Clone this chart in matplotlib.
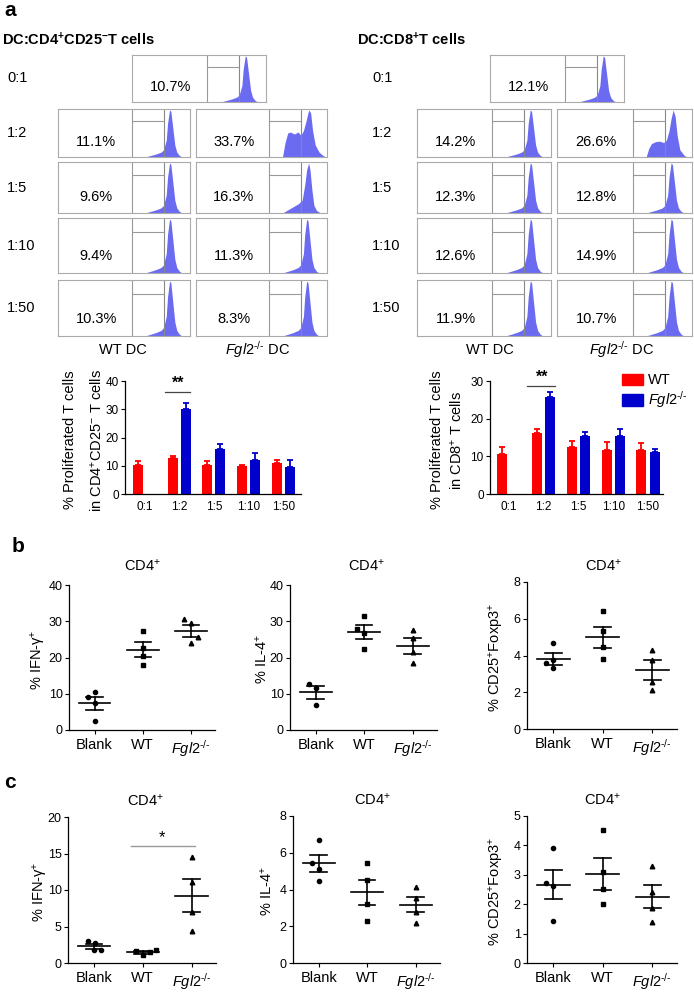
import numpy as np
import matplotlib
matplotlib.use("Agg")
import matplotlib.pyplot as plt
from matplotlib.patches import Patch

plt.rcParams['font.family'] = ['Liberation Sans', 'DejaVu Sans']
plt.rcParams['mathtext.fontset'] = 'custom'
plt.rcParams['mathtext.rm'] = 'Liberation Sans'
plt.rcParams['mathtext.it'] = 'Liberation Sans:italic'
plt.rcParams['mathtext.bf'] = 'Liberation Sans:bold'
plt.rcParams['axes.linewidth'] = 0.9

# ---------------- data ----------------
ratios = ['0:1', '1:2', '1:5', '1:10', '1:50']

# flow histogram percentages (panel a)
cd4_wt_pct = ['10.7%', '11.1%', '9.6%', '9.4%', '10.3%']
cd4_ko_pct = [None, '33.7%', '16.3%', '11.3%', '8.3%']
cd8_wt_pct = ['12.1%', '14.2%', '12.3%', '12.6%', '11.9%']
cd8_ko_pct = [None, '26.6%', '12.8%', '14.9%', '10.7%']

# histogram outlines (fraction of box width / height)
peak_x = [0.66, 0.70, 0.74, 0.78, 0.80, 0.82, 0.83, 0.845, 0.855, 0.87, 0.885, 0.90, 0.92, 0.94]
peak_y = [0, 0.03, 0.06, 0.10, 0.15, 0.35, 0.70, 0.98, 0.95, 0.60, 0.25, 0.10, 0.03, 0]
small_x = [0.66, 0.70, 0.74, 0.78, 0.81, 0.83, 0.845, 0.86, 0.87, 0.885, 0.90, 0.92, 0.95]
small_y = [0, 0.06, 0.12, 0.18, 0.25, 0.55, 0.85, 0.98, 0.85, 0.45, 0.15, 0.05, 0]
broad4_x = [0.66, 0.68, 0.70, 0.72, 0.75, 0.78, 0.80, 0.82, 0.84, 0.86, 0.875, 0.89, 0.91, 0.94, 0.97, 0.99]
broad4_y = [0, 0.30, 0.50, 0.52, 0.48, 0.52, 0.45, 0.55, 0.75, 0.98, 0.92, 0.55, 0.25, 0.10, 0.03, 0]
broad8_x = [0.66, 0.68, 0.70, 0.73, 0.76, 0.79, 0.81, 0.83, 0.845, 0.86, 0.875, 0.89, 0.91, 0.94, 0.96]
broad8_y = [0, 0.18, 0.28, 0.32, 0.33, 0.30, 0.35, 0.55, 0.80, 0.98, 0.85, 0.45, 0.15, 0.04, 0]
profiles = {'peak': (peak_x, peak_y), 'small': (small_x, small_y),
            'broad4': (broad4_x, broad4_y), 'broad8': (broad8_x, broad8_y)}
cd4_ko_shape = [None, 'broad4', 'small', 'peak', 'peak']
cd8_ko_shape = [None, 'broad8', 'peak', 'peak', 'peak']

# bar charts (panel a): mean and top of error bar
cd4_wt_mean = [10.1, 12.7, 10.4, 10.0, 10.8]
cd4_wt_top = [11.6, 13.4, 11.7, 10.3, 11.9]
cd4_ko_mean = [30.2, 15.8, 12.2, 9.4]
cd4_ko_top = [32.3, 17.8, 14.5, 11.9]
cd8_wt_mean = [10.7, 16.3, 12.5, 11.6, 11.8]
cd8_wt_top = [12.6, 17.3, 14.1, 13.8, 13.5]
cd8_ko_mean = [25.7, 15.4, 15.3, 11.1]
cd8_ko_top = [27.1, 16.4, 17.3, 12.0]

KO = r'$\mathit{Fgl2}^{\text{-/-}}$'
groups = ['Blank', 'WT', KO]

# panel b: dots, x-shift of dots, mean, SEM
b_ifn = [[10.6, 9.0, 7.4, 2.6], [27.3, 22.7, 20.5, 17.9], [30.5, 29.4, 25.7, 24.1]]
b_ifn_dx = [[0, -0.14, 0, 0], [0, 0, 0, 0], [-0.14, 0, 0.14, 0]]
b_ifn_mean = [7.4, 22.1, 27.4]
b_ifn_sem = [1.75, 2.05, 1.7]

b_il4 = [[12.6, 11.5, 6.9], [31.5, 27.9, 26.7, 22.3], [27.6, 25.3, 21.5, 18.6]]
b_il4_dx = [[-0.14, 0, 0], [0, -0.14, 0, 0], [0, 0, 0, 0]]
b_il4_mean = [10.4, 27.1, 23.2]
b_il4_sem = [1.8, 1.95, 2.1]

b_treg = [[4.68, 3.77, 3.59, 3.30], [6.42, 5.32, 4.46, 3.81], [4.32, 3.74, 2.54, 2.10]]
b_treg_dx = [[0, 0, -0.14, 0], [0, 0, 0, 0], [0, 0, 0, 0]]
b_treg_mean = [3.81, 4.99, 3.21]
b_treg_sem = [0.31, 0.56, 0.52]

# panel c
c_ifn = [[2.95, 2.73, 1.73, 1.73], [1.68, 1.09, 1.45, 1.82], [14.5, 11.1, 7.0, 4.4]]
c_ifn_dx = [[-0.12, 0.02, 0, 0.14], [-0.14, 0, 0.14, 0.27], [0, 0, 0, 0]]
c_ifn_mean = [2.27, 1.45, 9.2]
c_ifn_sem = [0.32, 0.16, 2.25]

c_il4 = [[6.71, 5.42, 5.09, 4.48], [5.42, 4.49, 3.19, 2.31], [4.12, 3.56, 2.80, 2.17]]
c_il4_dx = [[0, -0.14, 0, 0], [0, 0, 0, 0], [0, 0, 0, 0]]
c_il4_mean = [5.42, 3.84, 3.18]
c_il4_sem = [0.46, 0.68, 0.43]

c_treg = [[3.92, 2.73, 2.62, 1.43], [4.51, 3.10, 2.51, 2.02], [3.31, 2.40, 1.86, 1.39]]
c_treg_dx = [[0, -0.14, 0, 0], [0, 0, 0, 0], [0, 0, 0, 0]]
c_treg_mean = [2.67, 3.04, 2.26]
c_treg_sem = [0.50, 0.54, 0.40]

# ---------------- figure ----------------
W, H = 694, 992
fig = plt.figure(figsize=(W / 100, H / 100), dpi=100)


def px_axes(x0, y0, x1, y1):
    return fig.add_axes([x0 / W, 1 - y1 / H, (x1 - x0) / W, (y1 - y0) / H])


def px_text(x, y, s, **kw):
    kw.setdefault('va', 'center')
    fig.text(x / W, 1 - y / H, s, **kw)


HIST_BLUE = '#6b6bf2'


def hist_box(x0, y0, x1, y1, pct, shape):
    ax = px_axes(x0, y0, x1, y1)
    xs, ys = profiles[shape]
    ax.fill_between(xs, ys, color=HIST_BLUE, lw=0)
    ax.plot([0.56, 0.56], [0, 1], color='#999999', lw=0.8)
    ax.plot([0.80, 0.80], [0, 1], color='#888888', lw=0.8)
    ax.plot([0.56, 0.80], [0.75, 0.75], color='#999999', lw=0.8)
    ax.set_xlim(0, 1)
    ax.set_ylim(0, 1)
    ax.set_xticks([])
    ax.set_yticks([])
    for s in ax.spines.values():
        s.set_color('#aaaaaa')
        s.set_linewidth(0.8)
    ax.text(0.29, 0.31, pct, transform=ax.transAxes, ha='center', va='center', fontsize=10.5)


row_y = [(55, 102), (109, 157), (162, 213), (218, 273), (280, 336)]


def hist_grid(wt_box, ko_box, top_box, wt_pct, ko_pct, ko_shape, label_x):
    for i, (ya, yb) in enumerate(row_y):
        px_text(label_x, (ya + yb) / 2, ratios[i], ha='left', fontsize=10.5)
        if i == 0:
            hist_box(top_box[0], ya, top_box[1], yb, wt_pct[0], 'peak')
        else:
            hist_box(wt_box[0], ya, wt_box[1], yb, wt_pct[i], 'peak')
            hist_box(ko_box[0], ya, ko_box[1], yb, ko_pct[i], ko_shape[i])


px_text(10, 10, 'a', ha='center', fontsize=15, fontweight='bold')
px_text(2, 40, r'DC:CD4$^{\mathbf{+}}$CD25$^{\mathbf{-}}$T cells', ha='left', fontsize=10.5, fontweight='bold')
px_text(357, 40, r'DC:CD8$^{\mathbf{+}}$T cells', ha='left', fontsize=10.5, fontweight='bold')

hist_grid((58, 190), (196, 327), (132, 266), cd4_wt_pct, cd4_ko_pct, cd4_ko_shape, 7)
hist_grid((417, 551), (557, 692), (490, 624), cd8_wt_pct, cd8_ko_pct, cd8_ko_shape, 372)

px_text(123, 350, 'WT DC', ha='center', fontsize=10.5)
px_text(258, 350, KO + ' DC', ha='center', fontsize=10.5)
px_text(490, 350, 'WT DC', ha='center', fontsize=10.5)
px_text(622, 350, KO + ' DC', ha='center', fontsize=10.5)


def bar_panel(box, wt_mean, wt_top, ko_mean, ko_top, ymax, xlim, star_y, star_x):
    ax = px_axes(*box)
    x = np.arange(len(ratios))
    wt_err = np.array(wt_top) - np.array(wt_mean)
    ko_err = np.array(ko_top) - np.array(ko_mean)
    ax.bar(x - 0.19, wt_mean, 0.29, color='#ff0000',
           yerr=[np.zeros(len(wt_err)), wt_err], capsize=2.5,
           error_kw=dict(ecolor='#ff0000', elinewidth=1.3, capthick=1.3))
    ax.bar(x[1:] + 0.19, ko_mean, 0.29, color='#0000cc',
           yerr=[np.zeros(len(ko_err)), ko_err], capsize=2.5,
           error_kw=dict(ecolor='#0000cc', elinewidth=1.3, capthick=1.3))
    ax.plot(star_x, [star_y, star_y], color='#444444', lw=0.9, clip_on=False)
    ax.text(np.mean(star_x) + 0.03, star_y + ymax * 0.01, '**', ha='center', va='bottom',
            fontsize=11.5, fontweight='bold')
    ax.set_xlim(*xlim)
    ax.set_ylim(0, ymax)
    ax.set_xticks(x)
    ax.set_xticklabels(ratios, fontsize=8.5)
    ax.set_yticks(np.arange(0, ymax + 1, 10))
    ax.tick_params(axis='y', labelsize=8.5, length=3, width=0.8, pad=1.5)
    ax.tick_params(axis='x', length=0, pad=5)
    for s in ['top', 'right']:
        ax.spines[s].set_visible(False)
    return ax


bar_panel((125, 381, 301, 494), cd4_wt_mean, cd4_wt_top, cd4_ko_mean, cd4_ko_top,
          40, (-0.56, 4.51), 36, [0.58, 1.3])
px_text(70, 440, '% Proliferated T cells', ha='center', rotation=90, fontsize=10.5)
px_text(97, 440, r'in CD4$^{+}$CD25$^{-}$ T cells', ha='center', rotation=90, fontsize=10.5)

ax8 = bar_panel((490, 381, 663, 494), cd8_wt_mean, cd8_wt_top, cd8_ko_mean, cd8_ko_top,
                30, (-0.54, 4.43), 28.8, [0.53, 1.33])
px_text(437, 440, '% Proliferated T cells', ha='center', rotation=90, fontsize=10.5)
px_text(457, 440, r'in CD8$^{+}$ T cells', ha='center', rotation=90, fontsize=10.5)
ax8.legend(handles=[Patch(color='#ff0000', label='WT'),
                    Patch(color='#0000cc', label=KO)],
           loc='upper left', bbox_to_anchor=(0.73, 1.12), frameon=False, fontsize=10.5,
           handlelength=1.4, handleheight=0.8, handletextpad=0.4, labelspacing=0.15,
           borderaxespad=0)


def dot_panel(box, dots, dx, means, sems, ymax, yticks, ylabel, label_x, title=None, title_xy=None):
    ax = px_axes(*box)
    markers = ['o', 's', '^']
    sizes = [3.0, 3.0, 3.3]
    for i in range(3):
        xs = i + np.array(dx[i])
        ax.plot(xs, dots[i], ls='none', marker=markers[i], ms=sizes[i], color='black', clip_on=False)
        ax.plot([i - 0.33, i + 0.33], [means[i], means[i]], color='black', lw=1.2)
        ax.plot([i, i], [means[i] - sems[i], means[i] + sems[i]], color='black', lw=1.2)
        for v in (means[i] - sems[i], means[i] + sems[i]):
            ax.plot([i - 0.17, i + 0.17], [v, v], color='black', lw=1.2)
    ax.set_xlim(-0.53, 2.5)
    ax.set_ylim(0, ymax)
    ax.set_yticks(yticks)
    ax.set_xticks([0, 1, 2])
    ax.set_xticklabels(groups, fontsize=10.5)
    ax.tick_params(axis='y', labelsize=9, length=3, width=0.8, pad=1.5)
    ax.tick_params(axis='x', length=3, width=0.8, pad=3)
    for s in ['top', 'right']:
        ax.spines[s].set_visible(False)
    y0, y1 = box[1], box[3]
    px_text(label_x, (y0 + y1) / 2 + 2, ylabel, ha='center', rotation=90, fontsize=10.5)
    if title:
        px_text(title_xy[0], title_xy[1], title, ha='center', fontsize=10.5)
    return ax


ifn_lab = r'% IFN-γ$^{+}$'
il4_lab = r'% IL-4$^{+}$'
treg_lab = r'% CD25$^{+}$Foxp3$^{+}$'
cd4_t = r'CD4$^{+}$'

px_text(18, 547, 'b', ha='center', fontsize=15, fontweight='bold')
dot_panel((69, 585, 215, 730), b_ifn, b_ifn_dx, b_ifn_mean, b_ifn_sem, 40, [0, 10, 20, 30, 40],
          ifn_lab, 38, cd4_t, (142, 566))
dot_panel((290, 585, 437, 730), b_il4, b_il4_dx, b_il4_mean, b_il4_sem, 40, [0, 10, 20, 30, 40],
          il4_lab, 262, cd4_t, (366, 566))
dot_panel((527, 582, 677, 729), b_treg, b_treg_dx, b_treg_mean, b_treg_sem, 8, [0, 2, 4, 6, 8],
          treg_lab, 497, cd4_t, (603, 566))

px_text(10, 782, 'c', ha='center', fontsize=15, fontweight='bold')
axc = dot_panel((68, 817, 216, 963), c_ifn, c_ifn_dx, c_ifn_mean, c_ifn_sem, 20, [0, 5, 10, 15, 20],
                ifn_lab, 40, cd4_t, (145, 801))
axc.plot([0.76, 2.08], [16, 16], color='#999999', lw=1.0)
axc.text(1.39, 16.2, '*', ha='center', va='bottom', fontsize=12)
dot_panel((293, 816, 440, 963), c_il4, c_il4_dx, c_il4_mean, c_il4_sem, 8, [0, 2, 4, 6, 8],
          il4_lab, 267, cd4_t, (372, 800))
dot_panel((527, 816, 677, 963), c_treg, c_treg_dx, c_treg_mean, c_treg_sem, 5, [0, 1, 2, 3, 4, 5],
          treg_lab, 497, cd4_t, (602, 800))

fig.savefig('out.png', dpi=100)
